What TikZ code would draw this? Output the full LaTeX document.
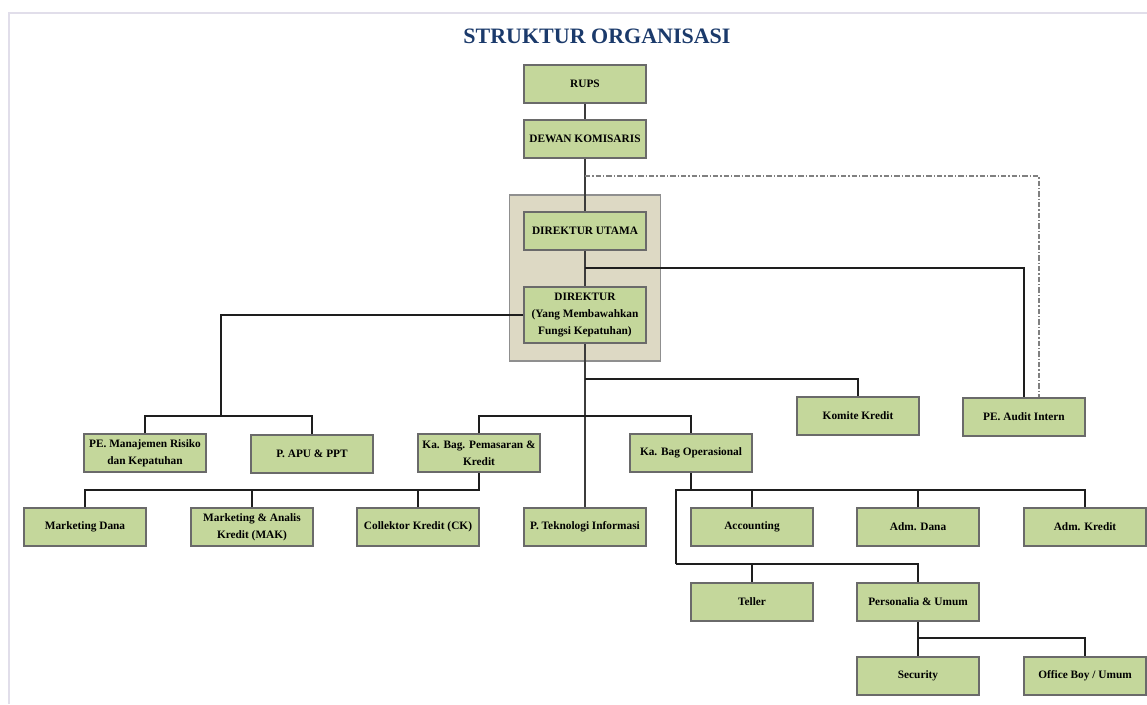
\documentclass[tikz,border=0pt]{standalone}
\usepackage{fontspec}
\setmainfont{Liberation Serif}
\usetikzlibrary{calc}
\definecolor{boxfill}{HTML}{C4D79B}
\definecolor{boxline}{HTML}{6A6A6A}
\definecolor{grpfill}{HTML}{DDD9C4}
\definecolor{grpline}{HTML}{8F8F8F}
\definecolor{titleblue}{HTML}{1B3A6B}
\definecolor{framecol}{HTML}{E1DEEA}
\definecolor{linecol}{HTML}{1E1E1E}
\definecolor{trunkcol}{HTML}{3C3C3C}
\tikzset{
  orgbox/.style={draw=boxline, fill=boxfill, line width=1.5pt, rectangle,
    minimum width=91.5pt, minimum height=28.5pt, inner sep=1pt, align=center,
    font=\bfseries\fontsize{8.5}{12.5}\selectfont},
  conn/.style={draw=linecol, line width=1.4pt},
  trunk/.style={draw=trunkcol, line width=1.8pt},
  dashlink/.style={draw=gray, line width=1.1pt, dash pattern=on 4pt off 1.5pt on 1pt off 1.5pt},
}
\begin{document}
\begin{tikzpicture}[x=0.75pt,y=-0.75pt]
\useasboundingbox (0,0) rectangle (1147,704);
% frame
\draw[framecol, line width=1.2pt] (9,704) -- (9,13) -- (1147,13);
% title
\node[text=titleblue, font=\bfseries\fontsize{16.5}{18}\selectfont] (title) at (597,36) {STRUKTUR ORGANISASI};
% group container
\node[draw=grpline, fill=grpfill, line width=1pt, minimum width=113pt, minimum height=124.5pt, inner sep=0pt] (grp) at (585,278) {};
% boxes
\node[orgbox] (rups) at (585,83.5) {RUPS};
\node[orgbox] (dewan) at (585,139) {DEWAN KOMISARIS};
\node[orgbox] (du) at (585,231) {DIREKTUR UTAMA};
\node[orgbox, minimum height=42pt] (dir) at (585,315) {DIREKTUR\\(Yang Membawahkan\\Fungsi Kepatuhan)};
\node[orgbox] (pem) at (145,453) {PE. Manajemen Risiko\\dan Kepatuhan};
\node[orgbox] (apu) at (312,453.5) {P. APU \& PPT};
\node[orgbox] (kbp) at (479,453) {Ka. Bag. Pemasaran \&\\Kredit};
\node[orgbox] (kbo) at (691,453) {Ka. Bag Operasional};
\node[orgbox] (komite) at (858,416) {Komite Kredit};
\node[orgbox] (audit) at (1024,417) {PE. Audit Intern};
\node[orgbox] (mdana) at (85,527) {Marketing Dana};
\node[orgbox] (mak) at (252,527) {Marketing \& Analis\\Kredit (MAK)};
\node[orgbox] (ck) at (418,527) {Collektor Kredit (CK)};
\node[orgbox] (ti) at (585,527) {P. Teknologi Informasi};
\node[orgbox] (acc) at (752,527) {Accounting};
\node[orgbox] (admd) at (918,527) {Adm. Dana};
\node[orgbox] (admk) at (1085,527) {Adm. Kredit};
\node[orgbox] (teller) at (752,601.5) {Teller};
\node[orgbox] (pers) at (918,601.5) {Personalia \& Umum};
\node[orgbox] (sec) at (918,675.5) {Security};
\node[orgbox] (ob) at (1085,675.5) {Office Boy / Umum};
% trunk
\draw[trunk] (rups.south) -- (dewan.north);
\draw[trunk] (dewan.south) -- (du.north);
\draw[trunk] (du.south) -- (dir.north);
\draw[trunk] (dir.south) -- (ti.north);
% dashed link to audit
\draw[dashlink] (dewan.south |- 0,176) -| ($(audit.north)+(15,0)$);
% direktur utama to audit
\draw[conn] (du.south |- 0,268) -| (audit.north);
% left branch
\draw[conn] (dir.west) -| (221,416);
\draw[conn] (pem.north) |- (221,416) -| (apu.north);
% komite
\draw[conn] (dir.south |- 0,379) -| (komite.north);
% ka bag
\draw[conn] (kbp.north) |- (ti.north |- 0,416) -| (kbo.north);
% pemasaran children
\draw[conn] (kbp.south) |- (mak.north |- 0,490);
\draw[conn] (mdana.north) |- (ck.north |- 0,490) -- (ck.north);
\draw[conn] (mak.north) -- (mak.north |- 0,490);
% operasional children
\draw[conn] (kbo.south) |- (676,490);
\draw[conn] (676,564) |- (admk.north |- 0,490) -- (admk.north);
\draw[conn] (acc.north) -- (acc.north |- 0,490);
\draw[conn] (admd.north) -- (admd.north |- 0,490);
\draw[conn] (676,564) -| (pers.north);
\draw[conn] (teller.north) -- (teller.north |- 0,564);
% personalia children
\draw[conn] (pers.south) -- (sec.north);
\draw[conn] (pers.south |- 0,638) -| (ob.north);
\end{tikzpicture}
\end{document}
